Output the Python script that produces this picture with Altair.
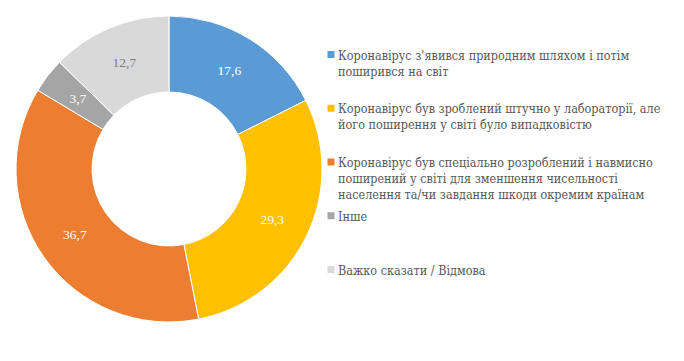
import altair as alt
import pandas as pd

labels = [
    "Коронавірус з'явився природним  шляхом і потім\nпоширився на світ",
    "Коронавірус був зроблений штучно у лабораторії,  але\nйого поширення у світі було випадковістю",
    "Коронавірус був спеціально  розроблений і навмисно\nпоширений  у світі  для зменшення чисельності\nнаселення та/чи  завдання шкоди окремим країнам",
    "Інше",
    "Важко  сказати / Відмова",
]
values = [17.6, 29.3, 36.7, 3.7, 12.7]
colors = ["#5B9BD5", "#FFC000", "#ED7D31", "#A5A5A5", "#D9D9D9"]
text_colors = ["#FFFFFF", "#FFFFFF", "#FFFFFF", "#FFFFFF", "#7F7F7F"]

df = pd.DataFrame({
    "idx": list(range(len(values))),
    "label": labels,
    "value": values,
    "tcolor": text_colors,
})

FONT = "'DejaVu Serif Condensed', 'DejaVu Serif', serif"
cx, cy = 161, 161
color_scale = alt.Scale(domain=list(range(len(values))), range=colors)

base = alt.Chart(df).encode(
    theta=alt.Theta("value:Q", stack=True),
    order=alt.Order("idx:Q"),
)

arcs = base.mark_arc(outerRadius=153, innerRadius=77, stroke="white", strokeWidth=1).encode(
    x=alt.value(cx), y=alt.value(cy),
    color=alt.Color("idx:O", scale=color_scale, legend=None),
)

vals = base.transform_calculate(
    lbl="replace(format(datum.value, '.1f'), '.', ',')"
).mark_text(radius=115, font="Liberation Serif", fontSize=13.5).encode(
    x=alt.value(cx), y=alt.value(cy),
    text="lbl:N",
    color=alt.Color("tcolor:N", scale=None),
)

ly = alt.Y("idx:Q", scale=alt.Scale(domain=[0, 4], range=[46.5, 261.5]), axis=None)

leg_sq = alt.Chart(df).mark_square(size=49, opacity=1).encode(
    x=alt.value(323), y=ly,
    color=alt.Color("idx:O", scale=color_scale, legend=None),
)

leg_txt = alt.Chart(df).mark_text(
    align="left", baseline="alphabetic", dy=5, lineBreak="\n", lineHeight=16,
    font=FONT, fontSize=12.5, color="#595959",
).encode(
    x=alt.value(330), y=ly, text="label:N",
)

chart = alt.layer(arcs, vals, leg_sq, leg_txt).properties(
    width=668, height=340, padding=0, autosize="none",
).configure_view(stroke=None)

chart.save("out.html", embed_options={"renderer": "svg", "actions": False})
